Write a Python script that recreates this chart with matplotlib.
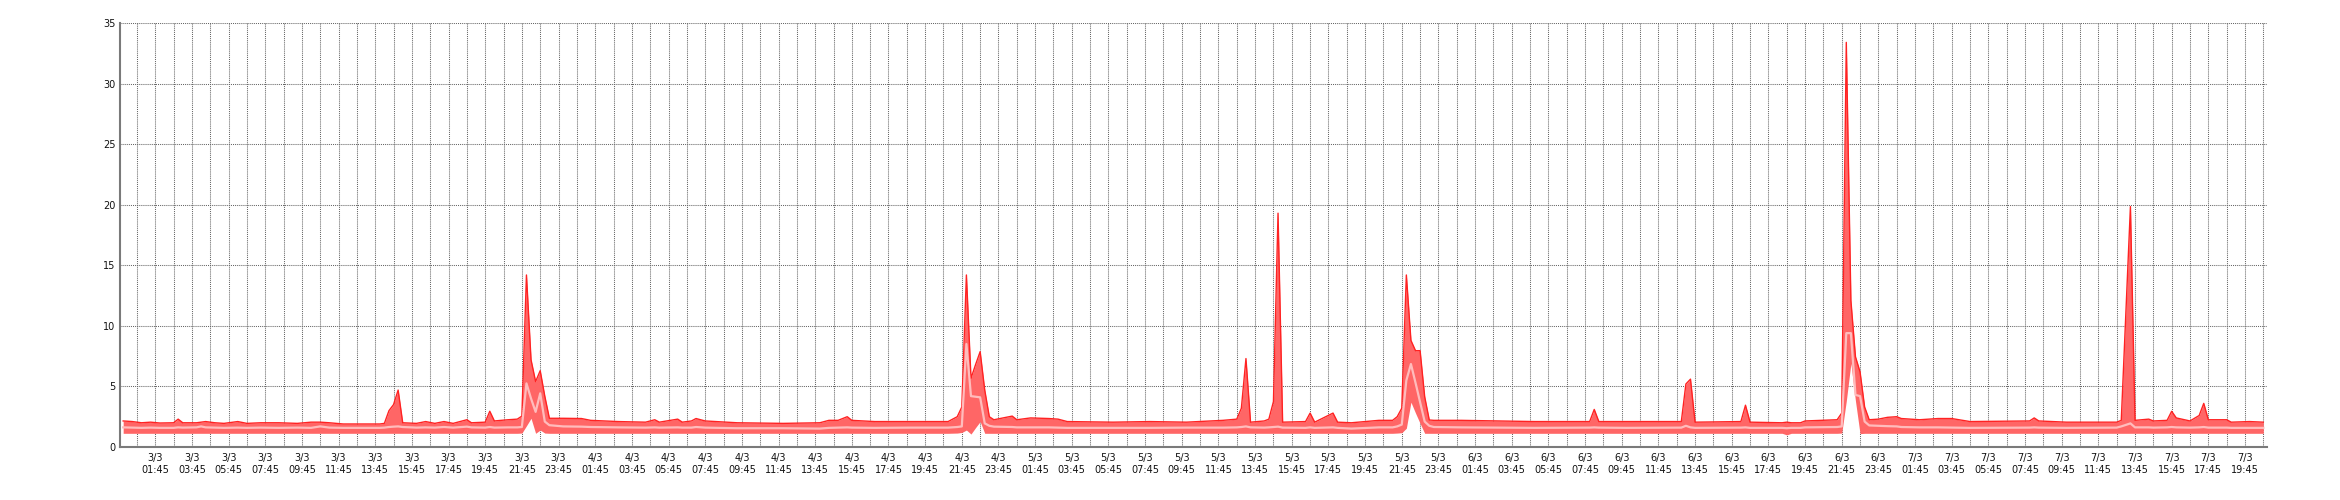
import numpy as np
import matplotlib
matplotlib.use('Agg')
import matplotlib.pyplot as plt

# hours since 3/3 00:00, with the max / avg / min of each sample
t_hours = [
    0.0, 0.5, 1.0, 1.5, 2.0, 2.75, 3.0, 3.25, 4.0, 4.25,
    4.5, 5.0, 5.5, 6.25, 6.75, 7.5, 8.5, 9.5, 10.25, 10.75,
    11.25, 12.0, 13.0, 14.0, 14.25, 14.5, 14.75, 15.0, 15.25, 16.0,
    16.5, 17.0, 17.5, 18.0, 18.75, 19.0, 19.75, 20.0, 20.25, 21.0,
    21.5, 21.75, 22.0, 22.25, 22.5, 22.75, 23.0, 23.25, 24.0, 25.0,
    25.5, 27.0, 28.5, 29.0, 29.25, 30.25, 30.5, 31.0, 31.25, 31.75,
    33.5, 36.0, 38.0, 38.5, 39.0, 39.5, 39.75, 41.0, 43.0, 45.0,
    45.5, 45.75, 46.0, 46.25, 46.5, 46.75, 47.0, 47.25, 47.5, 48.5,
    48.75, 49.5, 50.5, 51.0, 51.5, 54.0, 56.0, 58.0, 60.0, 60.75,
    61.0, 61.25, 61.5, 62.25, 62.5, 62.75, 63.0, 63.25, 64.5, 64.75,
    65.0, 66.0, 66.25, 67.0, 68.5, 69.25, 69.5, 69.75, 70.0, 70.25,
    70.5, 70.75, 71.0, 71.25, 71.5, 73.0, 75.0, 77.0, 80.0, 80.25,
    80.5, 82.0, 85.0, 85.25, 85.5, 85.75, 88.25, 88.5, 88.75, 90.5,
    90.75, 91.0, 91.5, 91.75, 93.5, 93.75, 94.0, 94.25, 94.5, 94.75,
    95.0, 95.25, 95.75, 96.25, 96.75, 97.0, 98.0, 99.0, 99.75, 100.75,
    104.0, 104.25, 104.5, 106.0, 108.75, 109.0, 109.5, 109.75, 110.5, 110.75,
    111.5, 111.75, 112.0, 112.75, 113.25, 113.5, 113.75, 114.75, 115.0, 116.0,
    116.75,
]

v_max = [
    2.15, 2.10, 2.00, 2.05, 1.98, 2.00, 2.30, 2.00, 2.00, 2.05,
    2.10, 2.00, 1.95, 2.10, 1.95, 2.00, 2.00, 1.95, 2.05, 2.05,
    2.00, 1.90, 1.90, 1.90, 1.95, 3.00, 3.50, 4.70, 2.00, 1.95,
    2.10, 1.95, 2.10, 1.95, 2.25, 2.00, 2.05, 2.95, 2.15, 2.25,
    2.30, 2.55, 14.20, 7.20, 5.40, 6.30, 4.20, 2.37, 2.37, 2.35,
    2.20, 2.10, 2.05, 2.25, 2.05, 2.30, 2.05, 2.15, 2.35, 2.15,
    2.00, 1.95, 2.00, 2.20, 2.20, 2.50, 2.20, 2.10, 2.10, 2.10,
    2.50, 3.30, 14.20, 5.67, 6.80, 7.87, 4.70, 2.50, 2.25, 2.55,
    2.25, 2.40, 2.35, 2.30, 2.10, 2.05, 2.10, 2.05, 2.20, 2.30,
    3.20, 7.30, 2.05, 2.15, 2.30, 3.75, 19.30, 2.05, 2.10, 2.80,
    2.05, 2.80, 2.05, 2.00, 2.20, 2.20, 2.50, 3.20, 14.20, 8.80,
    7.95, 7.95, 4.15, 2.23, 2.20, 2.20, 2.15, 2.10, 2.10, 3.10,
    2.10, 2.10, 2.10, 5.20, 5.60, 2.05, 2.10, 3.45, 2.05, 2.00,
    2.05, 2.00, 2.00, 2.15, 2.25, 2.80, 33.40, 12.10, 7.45, 6.20,
    3.30, 2.25, 2.30, 2.45, 2.50, 2.35, 2.25, 2.35, 2.35, 2.10,
    2.15, 2.40, 2.15, 2.05, 2.05, 2.20, 19.85, 2.20, 2.30, 2.15,
    2.20, 2.95, 2.40, 2.15, 2.60, 3.60, 2.25, 2.25, 2.05, 2.10,
    2.05,
]

v_avg = [
    1.62, 1.60, 1.58, 1.60, 1.58, 1.58, 1.62, 1.60, 1.62, 1.70,
    1.62, 1.60, 1.58, 1.60, 1.58, 1.60, 1.58, 1.60, 1.58, 1.70,
    1.60, 1.58, 1.58, 1.58, 1.60, 1.65, 1.68, 1.70, 1.65, 1.60,
    1.62, 1.60, 1.65, 1.60, 1.68, 1.62, 1.60, 1.65, 1.60, 1.62,
    1.62, 1.65, 5.25, 4.00, 2.90, 4.43, 2.10, 1.80, 1.70, 1.68,
    1.65, 1.62, 1.60, 1.62, 1.60, 1.62, 1.60, 1.60, 1.65, 1.60,
    1.55, 1.55, 1.52, 1.58, 1.60, 1.62, 1.60, 1.58, 1.60, 1.60,
    1.65, 1.70, 8.50, 4.20, 4.15, 4.10, 1.95, 1.75, 1.68, 1.65,
    1.62, 1.62, 1.62, 1.60, 1.58, 1.58, 1.58, 1.60, 1.60, 1.62,
    1.65, 1.70, 1.62, 1.60, 1.62, 1.65, 1.68, 1.60, 1.58, 1.62,
    1.58, 1.62, 1.58, 1.52, 1.62, 1.62, 1.70, 1.85, 5.50, 6.85,
    5.30, 3.70, 2.10, 1.75, 1.65, 1.62, 1.60, 1.58, 1.60, 1.62,
    1.60, 1.58, 1.60, 1.75, 1.62, 1.58, 1.60, 1.62, 1.58, 1.58,
    1.55, 1.58, 1.58, 1.62, 1.65, 1.70, 9.40, 9.40, 4.30, 4.20,
    2.10, 1.78, 1.75, 1.72, 1.70, 1.65, 1.62, 1.62, 1.60, 1.58,
    1.60, 1.62, 1.60, 1.58, 1.60, 1.70, 1.95, 1.62, 1.62, 1.60,
    1.62, 1.65, 1.62, 1.60, 1.62, 1.65, 1.60, 1.60, 1.58, 1.58,
    1.58,
]

v_min = [
    1.13, 1.13, 1.13, 1.13, 1.13, 1.13, 1.13, 1.13, 1.13, 1.13,
    1.13, 1.13, 1.13, 1.13, 1.13, 1.13, 1.13, 1.13, 1.13, 1.13,
    1.13, 1.13, 1.13, 1.13, 1.13, 1.13, 1.13, 1.13, 1.13, 1.13,
    1.13, 1.13, 1.13, 1.13, 1.13, 1.13, 1.13, 1.13, 1.13, 1.13,
    1.13, 1.15, 1.75, 2.37, 1.13, 1.40, 1.15, 1.13, 1.13, 1.13,
    1.13, 1.13, 1.13, 1.13, 1.13, 1.13, 1.13, 1.13, 1.13, 1.13,
    1.13, 1.13, 1.13, 1.13, 1.13, 1.13, 1.13, 1.13, 1.13, 1.13,
    1.15, 1.20, 1.40, 1.07, 1.60, 2.10, 1.13, 1.13, 1.13, 1.13,
    1.13, 1.13, 1.13, 1.13, 1.13, 1.13, 1.13, 1.13, 1.13, 1.13,
    1.13, 1.13, 1.13, 1.13, 1.13, 1.13, 1.13, 1.13, 1.13, 1.13,
    1.13, 1.13, 1.13, 1.13, 1.13, 1.13, 1.15, 1.18, 1.55, 3.70,
    2.80, 1.95, 1.13, 1.13, 1.13, 1.13, 1.13, 1.13, 1.13, 1.13,
    1.13, 1.13, 1.13, 1.13, 1.13, 1.13, 1.13, 1.13, 1.13, 1.13,
    1.00, 1.13, 1.13, 1.13, 1.13, 1.15, 3.80, 6.90, 3.80, 1.10,
    1.13, 1.13, 1.13, 1.13, 1.13, 1.13, 1.13, 1.13, 1.13, 1.13,
    1.13, 1.13, 1.13, 1.13, 1.13, 1.13, 1.13, 1.13, 1.13, 1.13,
    1.13, 1.13, 1.13, 1.13, 1.13, 1.13, 1.13, 1.13, 1.13, 1.13,
    1.13,
]

# x labels every 2 hours, grid every hour (at :45)
label_hours = np.arange(1.75, 116, 2.0)
grid_hours = np.arange(0.75, 117, 1.0)
tick_labels = ['%d/3\n%02d:%02d' % (3 + int(h // 24), int(h % 24), round((h % 1) * 60))
               for h in label_hours]

W, H = 2340, 500
fig = plt.figure(figsize=(W / 100, H / 100), dpi=100)
ax = fig.add_axes([119.5 / W, 1 - 447 / H, (2267 - 119.5) / W, (447 - 23) / H])

ax.fill_between(t_hours, v_min, v_max, color='#ff6666', linewidth=0, zorder=2)
ax.plot(t_hours, v_max, color='#ff2222', linewidth=1.0, zorder=3)
ax.plot(t_hours, v_avg, color='#ffbcbc', linewidth=1.6, zorder=4)

ax.set_xlim(-0.2, 116.95)
ax.set_ylim(0, 35)
ax.set_yticks(np.arange(0, 36, 5))
ax.set_xticks(label_hours)
ax.set_xticklabels(tick_labels, linespacing=1.35)
ax.set_xticks(grid_hours, minor=True)

# dotted grid
ax.grid(True, which='both', color='#666666', linestyle=(0, (1, 1)),
        linewidth=0.75, zorder=1)
ax.set_axisbelow(True)

for side in ['top', 'right']:
    ax.spines[side].set_visible(False)
for side in ['left', 'bottom']:
    ax.spines[side].set_color('#7a7a7a')
    ax.spines[side].set_linewidth(1.5)

ax.tick_params(axis='both', which='both', length=0, labelsize=7, colors='#111111')
ax.tick_params(axis='x', pad=4)
ax.tick_params(axis='y', pad=3)

fig.savefig('out.png', dpi=100)
